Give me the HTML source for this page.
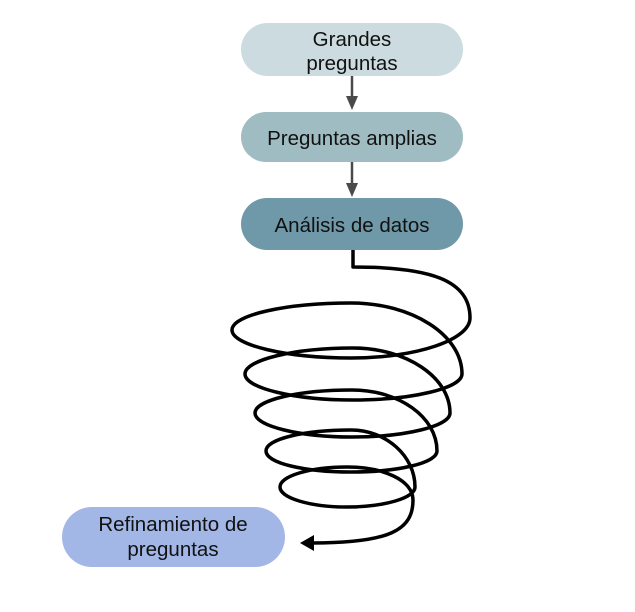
<!DOCTYPE html>
<html><head><meta charset="utf-8"><style>
body{margin:0;background:#fff;}
svg{display:block;}
text{font-family:"Liberation Sans",sans-serif;font-size:20.5px;fill:#111;text-anchor:middle;}
</style></head><body>
<svg width="635" height="612" viewBox="0 0 635 612">
<rect x="241" y="23" width="222" height="53" rx="26.5" fill="#ccdbe0"/>
<text x="352" y="46">Grandes</text><text x="352" y="70">preguntas</text>
<rect x="241" y="112" width="222" height="50" rx="25" fill="#9fbcc3"/>
<text x="352" y="145">Preguntas amplias</text>
<rect x="241" y="198" width="222" height="52" rx="26" fill="#6f98a8"/>
<text x="352" y="232">Análisis de datos</text>
<rect x="62" y="507" width="223" height="60" rx="30" fill="#a2b7e6"/>
<text x="173" y="531">Refinamiento de</text><text x="173" y="556">preguntas</text>
<g stroke="#4a4a4a" stroke-width="2.5"><line x1="352" y1="76" x2="352" y2="98"/><line x1="352" y1="162" x2="352" y2="185"/></g>
<polygon points="346,96 358,96 352,110" fill="#4a4a4a"/>
<polygon points="346,183 358,183 352,197" fill="#4a4a4a"/>
<path fill="none" stroke="#000" stroke-width="3.5" stroke-linejoin="round" d="M353,250 V267 C430,267 470,280 470,318
C470,340 416,358 351,358 C286,358 232,345 232,330 C232,315 286,303 351,303 C412,303 462,335 462,374
C462,388 413,400 353,400 C294,400 245,388 245,374 C245,360 294,348 353,348 C406,348 450,377 450,413
C450,426 406,437 352,437 C299,437 255,426 255,413 C255,400 299,390 352,390 C399,390 437,417 437,451
C437,463 398,472 351,472 C304,472 266,463 266,451 C266,439 304,430 351,430 C386,430 415,456 415,487
C415,498 384,507 347,507 C310,507 280,498 280,487 C280,476 310,467 347,467 C383,467 413,480 413,500
C413,530 390,543 312,543"/>
<polygon points="300,543 314,535 314,551" fill="#000"/>
</svg>
</body></html>
